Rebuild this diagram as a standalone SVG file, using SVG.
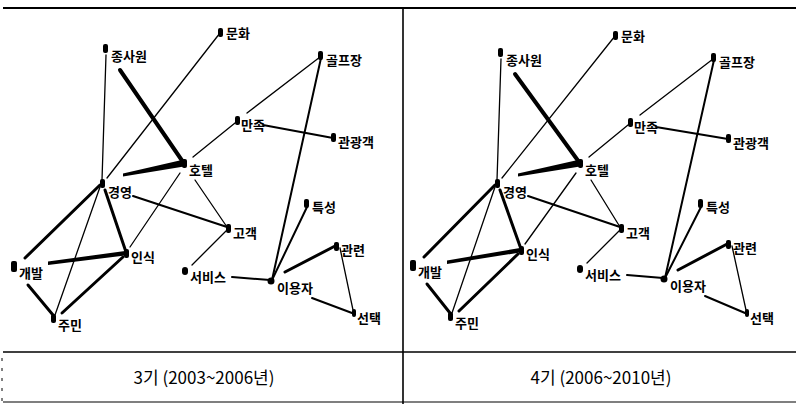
<svg xmlns="http://www.w3.org/2000/svg" width="796" height="404" viewBox="0 0 796 404">
<style>
.t{stroke:#000;stroke-linecap:round;fill:none}
.w1{stroke-width:1.3}
.w2{stroke-width:2}
.w3{stroke-width:3}
.w4{stroke-width:4}
.n{fill:#000}
.lb{font-family:"Noto Sans CJK KR","Noto Sans",sans-serif;font-size:13px;font-weight:bold;fill:#000}
.cap{font-family:"Noto Sans CJK KR","Liberation Sans",sans-serif;font-size:17px;fill:#000;text-anchor:middle}
.grid{stroke:#000;fill:none}
</style>
<rect width="796" height="404" fill="#fff"/>
<g id="table">
<line class="grid" x1="3" y1="8" x2="796" y2="8" stroke-width="2"/>
<line class="grid" x1="403" y1="8" x2="403" y2="404" stroke-width="1.6"/>
<line class="grid" x1="3" y1="352" x2="796" y2="352" stroke-width="1.6"/>
<line class="grid" x1="3" y1="402" x2="796" y2="402" stroke-width="1.2"/>
<line class="grid" x1="2" y1="358" x2="2" y2="402" stroke-width="1" stroke-dasharray="3,7"/>
<text class="cap" x="204" y="384">3기 (2003~2006년)</text>
<text class="cap" x="601" y="384">4기 (2006~2010년)</text>
</g>
<g id="connectors-1">
<line class="t w1" x1="106" y1="55" x2="102" y2="180"/>
<line class="t w4" x1="120" y1="70" x2="183" y2="162"/>
<line class="t w1" x1="220" y1="33" x2="107" y2="178"/>
<polygon class="n" points="123,173.5 184,159.5 184,166.5 123,176.5"/>
<line class="t w1" x1="193" y1="157" x2="235" y2="123"/>
<line class="t w1" x1="247" y1="113" x2="320" y2="57"/>
<line class="t w2" x1="263" y1="125" x2="333" y2="138"/>
<line class="t w2" x1="321" y1="58" x2="272" y2="280"/>
<line class="t w1" x1="195" y1="180" x2="227" y2="227"/>
<line class="t w2" x1="133" y1="196" x2="227" y2="227"/>
<line class="t w1" x1="180" y1="173" x2="130" y2="247"/>
<line class="t w1" x1="227" y1="230" x2="192" y2="265"/>
<line class="t w2" x1="232" y1="277" x2="270" y2="280"/>
<line class="t w2" x1="272" y1="280" x2="307" y2="207"/>
<line class="t w3" x1="285" y1="272" x2="337" y2="245"/>
<line class="t w1" x1="340" y1="248" x2="353" y2="310"/>
<line class="t w2" x1="312" y1="298" x2="352" y2="313"/>
<line class="t w3" x1="100" y1="185" x2="25" y2="258"/>
<line class="t w3" x1="105" y1="190" x2="126" y2="252"/>
<line class="t w1" x1="100" y1="187" x2="55" y2="315"/>
<polygon class="n" points="48,261.5 125,251 125,255.5 48,265"/>
<line class="t w3" x1="28" y1="285" x2="53" y2="315"/>
<line class="t w3" x1="123" y1="257" x2="62" y2="313"/>
</g>
<g id="connectors-2">
<line class="t w1" x1="501" y1="59" x2="497" y2="180"/>
<line class="t w4" x1="515" y1="74" x2="579" y2="162"/>
<line class="t w1" x1="615" y1="36" x2="502" y2="178"/>
<polygon class="n" points="518,173.5 580,159.5 580,166.5 518,176.5"/>
<line class="t w1" x1="589" y1="157" x2="628" y2="125"/>
<line class="t w1" x1="640" y1="115" x2="713" y2="59"/>
<line class="t w2" x1="656" y1="127" x2="728" y2="139"/>
<line class="t w2" x1="714" y1="60" x2="665" y2="278"/>
<line class="t w1" x1="591" y1="180" x2="620" y2="227"/>
<line class="t w2" x1="528" y1="196" x2="620" y2="227"/>
<line class="t w1" x1="576" y1="173" x2="525" y2="244"/>
<line class="t w1" x1="620" y1="230" x2="587" y2="263"/>
<line class="t w2" x1="627" y1="275" x2="663" y2="278"/>
<line class="t w2" x1="665" y1="278" x2="701" y2="207"/>
<line class="t w3" x1="678" y1="270" x2="729" y2="243"/>
<line class="t w1" x1="732" y1="246" x2="746" y2="310"/>
<line class="t w2" x1="705" y1="296" x2="745" y2="313"/>
<line class="t w3" x1="495" y1="185" x2="424" y2="257"/>
<line class="t w3" x1="500" y1="190" x2="521" y2="249"/>
<line class="t w1" x1="495" y1="187" x2="452" y2="313"/>
<polygon class="n" points="447,260.5 520,248 520,252.5 447,264"/>
<line class="t w3" x1="427" y1="284" x2="450" y2="313"/>
<line class="t w3" x1="518" y1="254" x2="459" y2="311"/>
</g>
<g id="p1-munhwa"><rect class="n" x="218" y="28" width="5" height="9" rx="2"/><text class="lb" x="226" y="38">문화</text></g>
<g id="p1-jongsawon"><rect class="n" x="103" y="44" width="5" height="9" rx="2"/><text class="lb" x="111" y="61">종사원</text></g>
<g id="p1-golf"><rect class="n" x="318" y="51" width="5" height="9" rx="2"/><text class="lb" x="326" y="65">골프장</text></g>
<g id="p1-manjok"><rect class="n" x="235" y="116" width="5" height="9" rx="2"/><text class="lb" x="241" y="130">만족</text></g>
<g id="p1-tourist"><rect class="n" x="331" y="133" width="5" height="9" rx="2"/><text class="lb" x="338" y="147">관광객</text></g>
<g id="p1-hotel"><rect class="n" x="182" y="159" width="5" height="9" rx="2"/><text class="lb" x="189" y="175">호텔</text></g>
<g id="p1-gyeongyeong"><rect class="n" x="100" y="179" width="5" height="9" rx="2"/><text class="lb" x="108" y="197">경영</text></g>
<g id="p1-teukseong"><rect class="n" x="304" y="199" width="5" height="9" rx="2"/><text class="lb" x="312" y="212">특성</text></g>
<g id="p1-gogaek"><rect class="n" x="226" y="224" width="5" height="9" rx="2"/><text class="lb" x="233" y="238">고객</text></g>
<g id="p1-gwallyeon"><rect class="n" x="334" y="242" width="5" height="9" rx="2"/><text class="lb" x="341" y="255">관련</text></g>
<g id="p1-insik"><rect class="n" x="124" y="249" width="5" height="9" rx="2"/><text class="lb" x="131" y="262">인식</text></g>
<g id="p1-gaebal"><rect class="n" x="11" y="261" width="6" height="11" rx="2"/><text class="lb" x="19" y="278">개발</text></g>
<g id="p1-service"><rect class="n" x="182" y="267" width="6" height="8" rx="3"/><text class="lb" x="190" y="282">서비스</text></g>
<g id="p1-user"><circle class="n" cx="271" cy="281" r="3.5"/><text class="lb" x="277" y="293">이용자</text></g>
<g id="p1-seontaek"><rect class="n" x="352" y="309" width="4" height="8" rx="2"/><text class="lb" x="357" y="323">선택</text></g>
<g id="p1-jumin"><rect class="n" x="51" y="314" width="5" height="9" rx="2"/><text class="lb" x="58" y="330">주민</text></g>
<g id="p2-munhwa"><rect class="n" x="613" y="31" width="5" height="9" rx="2"/><text class="lb" x="621" y="41">문화</text></g>
<g id="p2-jongsawon"><rect class="n" x="498" y="48" width="5" height="9" rx="2"/><text class="lb" x="506" y="65">종사원</text></g>
<g id="p2-golf"><rect class="n" x="711" y="53" width="5" height="9" rx="2"/><text class="lb" x="719" y="67">골프장</text></g>
<g id="p2-manjok"><rect class="n" x="628" y="118" width="5" height="9" rx="2"/><text class="lb" x="634" y="132">만족</text></g>
<g id="p2-tourist"><rect class="n" x="726" y="134" width="5" height="9" rx="2"/><text class="lb" x="733" y="148">관광객</text></g>
<g id="p2-hotel"><rect class="n" x="578" y="159" width="5" height="9" rx="2"/><text class="lb" x="585" y="175">호텔</text></g>
<g id="p2-gyeongyeong"><rect class="n" x="495" y="179" width="5" height="9" rx="2"/><text class="lb" x="503" y="197">경영</text></g>
<g id="p2-teukseong"><rect class="n" x="698" y="199" width="5" height="9" rx="2"/><text class="lb" x="706" y="212">특성</text></g>
<g id="p2-gogaek"><rect class="n" x="619" y="224" width="5" height="9" rx="2"/><text class="lb" x="626" y="238">고객</text></g>
<g id="p2-gwallyeon"><rect class="n" x="726" y="240" width="5" height="9" rx="2"/><text class="lb" x="733" y="253">관련</text></g>
<g id="p2-insik"><rect class="n" x="519" y="246" width="5" height="9" rx="2"/><text class="lb" x="526" y="259">인식</text></g>
<g id="p2-gaebal"><rect class="n" x="410" y="260" width="6" height="11" rx="2"/><text class="lb" x="418" y="277">개발</text></g>
<g id="p2-service"><rect class="n" x="577" y="265" width="6" height="8" rx="3"/><text class="lb" x="585" y="280">서비스</text></g>
<g id="p2-user"><circle class="n" cx="664" cy="279" r="3.5"/><text class="lb" x="670" y="291">이용자</text></g>
<g id="p2-seontaek"><rect class="n" x="745" y="309" width="4" height="8" rx="2"/><text class="lb" x="750" y="323">선택</text></g>
<g id="p2-jumin"><rect class="n" x="448" y="312" width="5" height="9" rx="2"/><text class="lb" x="455" y="328">주민</text></g>
</svg>
